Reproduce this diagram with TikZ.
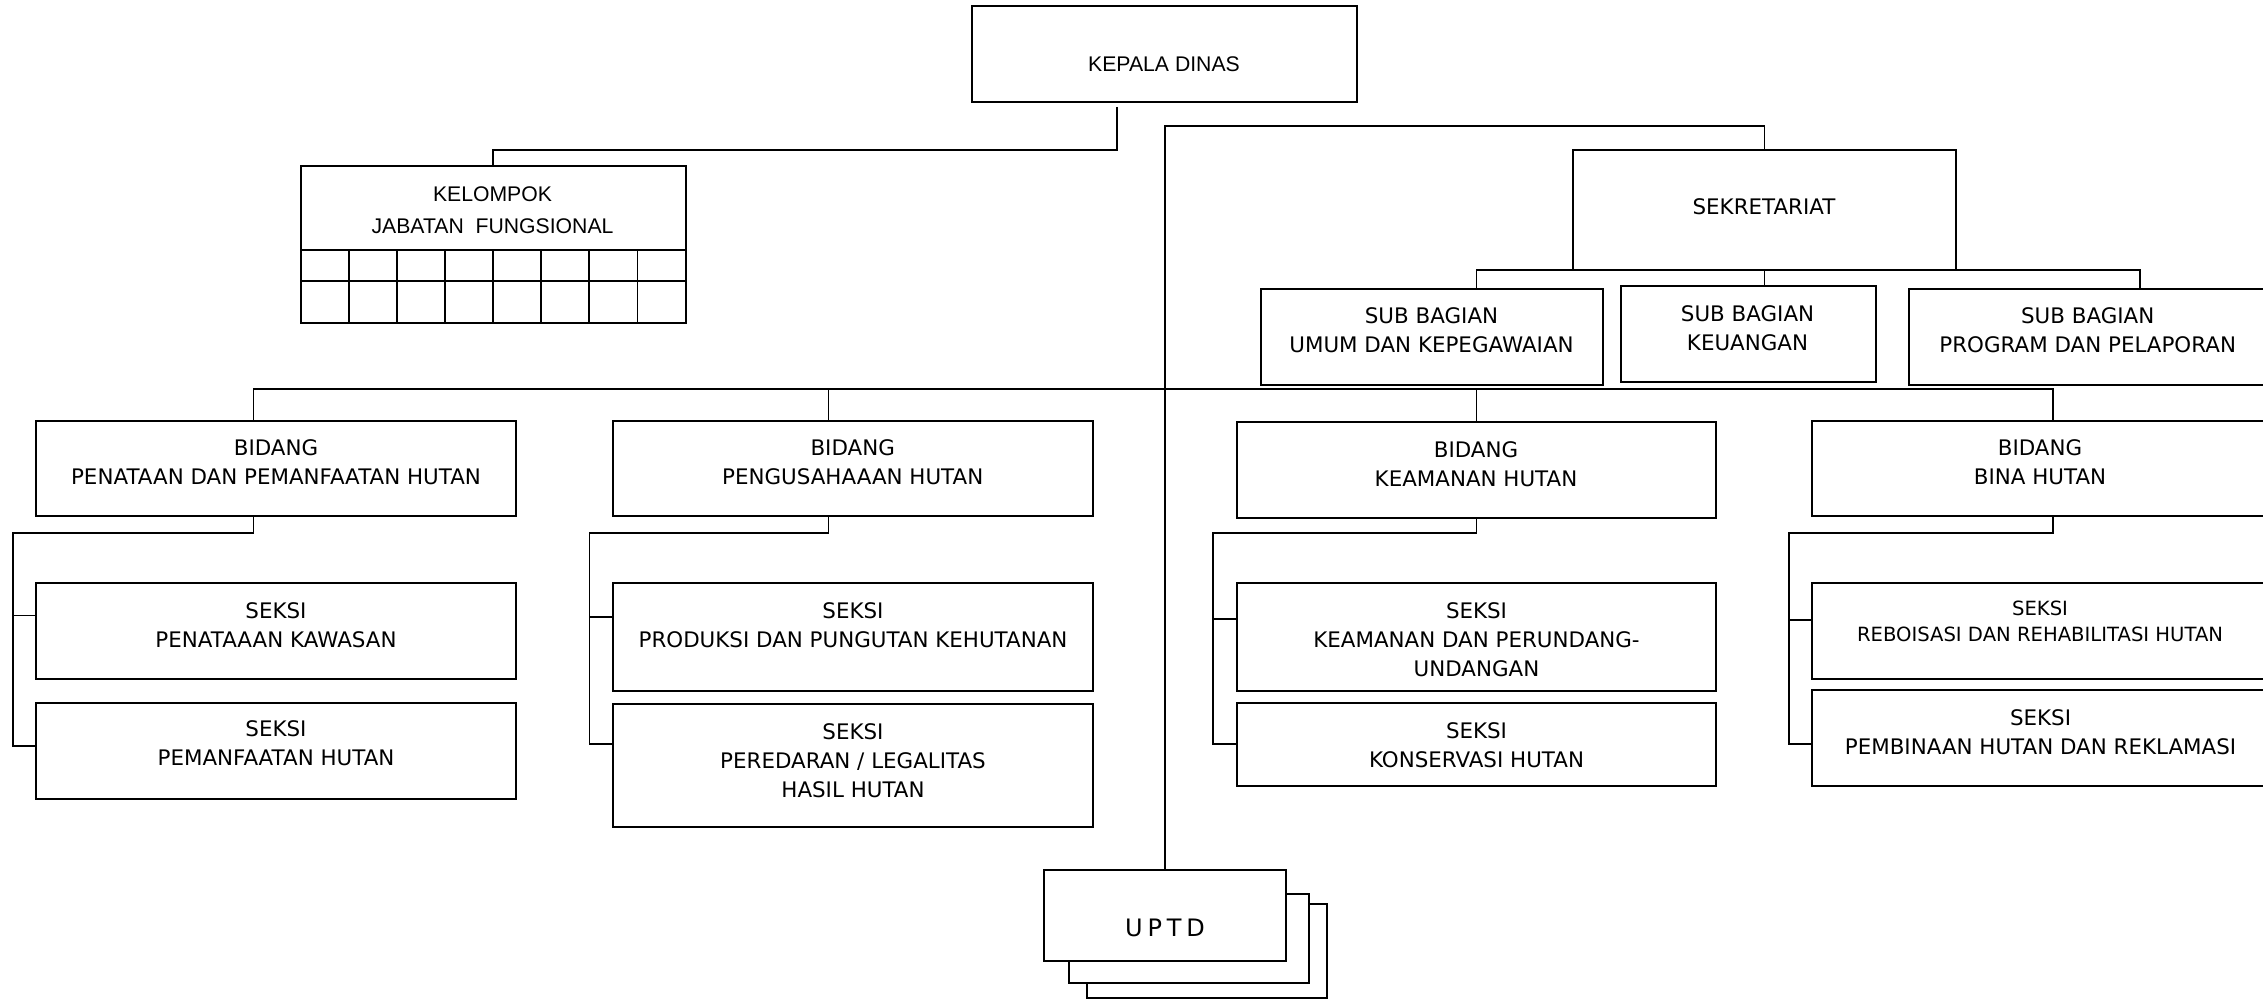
\documentclass[tikz,border=0pt]{standalone}
\usepackage{fontspec}
\newfontfamily\dejavu{DejaVu Sans}
\newfontfamily\arialfont{Liberation Sans}
\usetikzlibrary{calc}

% centred multi-line label whose base anchor sits on the first line
\newcommand{\ml}[1]{\begin{tabular}[t]{@{}c@{}}#1\end{tabular}}

% rectangle node given by its corners: name, x1, y1, x2, y2 (pixel units)
\newcommand{\orgbox}[5]{%
  \pgfmathsetmacro{\obw}{(#4-#2)*0.5}%
  \pgfmathsetmacro{\obh}{(#5-#3)*0.5}%
  \node[box, minimum width=\obw pt, minimum height=\obh pt] (#1) at ({(#2+#4)/2},{(#3+#5)/2}) {};%
}

% bidang -> two seksi: bidang, drop x, rail x, elbow y, seksi A, stub y A, seksi B, stub y B
\newcommand{\branch}[8]{%
  \coordinate (#1-drop) at (#2,#4);
  \coordinate (#1-rail) at (#3,#4);
  \coordinate (#1-sa) at (#3,#6);
  \coordinate (#1-sb) at (#3,#8);
  \draw[link] (#1.south -| #1-drop) -- (#1-drop) -- (#1-rail) -- (#1-sb) -- (#7.west |- #1-sb);
  \draw[link] (#1-sa) -- (#5.west |- #1-sa);
}

\tikzset{
  box/.style={draw, line width=1pt, inner sep=0pt},
  link/.style={line width=0.8pt},
  txt/.style={anchor=base, inner sep=0pt, font=\dejavu\fontsize{10.7}{14.5}\selectfont},
  txtsmall/.style={txt, font=\dejavu\fontsize{9.8}{13.3}\selectfont},
  txtarial/.style={txt, font=\arialfont\fontsize{10.6}{15.8}\selectfont},
}

\begin{document}
\begin{tikzpicture}[x=0.5pt, y=-0.5pt]
\useasboundingbox (0,0) rectangle (2263,1000);
\clip (0,0) rectangle (2263,1000);
\fill[white] (0,0) rectangle (2263,1000);

% --- boxes ---
\orgbox{kd}{972}{6}{1357}{102}
\orgbox{kel}{301}{166}{685.5}{322.7}
\orgbox{sek}{1573}{150}{1956}{270}
\orgbox{sb1}{1261}{289}{1603}{385}
\orgbox{sb2}{1621}{286}{1876}{382}
\orgbox{sb3}{1909}{289}{2270}{385}
\orgbox{b1}{36}{421}{516}{516}
\orgbox{b2}{613}{421}{1093}{516}
\orgbox{b3}{1237}{422}{1716}{518}
\orgbox{b4}{1812}{421}{2270}{516}
\orgbox{s1a}{36}{583}{516}{679}
\orgbox{s1b}{36}{703}{516}{799}
\orgbox{s2a}{613}{583}{1093}{691}
\orgbox{s2b}{613}{704}{1093}{827}
\orgbox{s3a}{1237}{583}{1716}{691}
\orgbox{s3b}{1237}{703}{1716}{786}
\orgbox{s4a}{1812}{583}{2270}{679}
\orgbox{s4b}{1812}{690}{2270}{786}

% kelompok jabatan fungsional grid
\draw[line width=0.9pt] (301,250) -- (685.5,250);
\draw[line width=0.9pt] (301,281) -- (685.5,281);
\foreach \i in {1,...,7}
  \draw[line width=0.9pt] ({301+\i*48.06},250) -- ({301+\i*48.06},322.7);

% UPTD stack, back to front
\fill[white] (1087,904) rectangle (1327,998);
\draw[line width=0.8pt] (1087,904) rectangle (1327,998);
\fill[white] (1069,894) rectangle (1309,983);
\draw[line width=1pt] (1069,894) rectangle (1309,983);
\orgbox{uptd}{1045}{871}{1285}{960}
\fill[white] (uptd.south west) rectangle (uptd.north east);
\draw[line width=1pt] (uptd.south west) rectangle (uptd.north east);

% --- connectors ---
\coordinate (kd-out) at (1117,107);
\coordinate (kd-elbow) at (1117,150);
\draw[link] (kd-out) -- (kd-elbow) -| (kel.north);

\coordinate (trunk-top) at (1165,126);
\draw[link] (uptd.north) -- (trunk-top) -| (sek.north);

\coordinate (sb-l) at (1476.5,270);
\coordinate (sb-r) at (2140,270);
\draw[link] (sb1.north -| sb-l) -- (sb-l) -- (sb-r) -- (sb3.north -| sb-r);
\draw[link] (sek.south) -- (sb2.north -| sek.south);

\coordinate (bus-l) at (253.6,389);
\coordinate (bus-r) at (2053,389);
\coordinate (bus-2) at (828.6,389);
\draw[link] (b1.north -| bus-l) -- (bus-l) -- (bus-r) -- (b4.north -| bus-r);
\draw[link] (bus-2) -- (b2.north -| bus-2);
\draw[link] (b3.north |- bus-l) -- (b3.north);

\branch{b1}{253.6}{12.9}{532.7}{s1a}{615.3}{s1b}{746}
\branch{b2}{828.6}{589.3}{532.7}{s2a}{616.7}{s2b}{744}
\branch{b3}{1476.5}{1213.2}{532.7}{s3a}{618.7}{s3b}{744}
\branch{b4}{2053}{1788.8}{532.7}{s4a}{620}{s4b}{744}

% --- labels ---
\node[txtarial] (t-kd) at (1164,71.7) {\ml{KEPALA DINAS}};
\node[txtarial] (t-kel) at (492.5,201.7) {\ml{KELOMPOK\\JABATAN\ \ FUNGSIONAL}};
\node[txt] (t-sek) at (1764,215) {\ml{SEKRETARIAT}};
\node[txt] (t-sb1) at (1431.5,323.3) {\ml{SUB BAGIAN\\UMUM DAN KEPEGAWAIAN}};
\node[txt] (t-sb2) at (1747.5,321.7) {\ml{SUB BAGIAN\\KEUANGAN}};
\node[txt] (t-sb3) at (2087.7,323.3) {\ml{SUB BAGIAN\\PROGRAM DAN PELAPORAN}};
\node[txt] (t-b1) at (276,455) {\ml{BIDANG\\PENATAAN DAN PEMANFAATAN HUTAN}};
\node[txt] (t-b2) at (852.7,455) {\ml{BIDANG\\PENGUSAHAAAN HUTAN}};
\node[txt] (t-b3) at (1476,457.3) {\ml{BIDANG\\KEAMANAN HUTAN}};
\node[txt] (t-b4) at (2040,455) {\ml{BIDANG\\BINA HUTAN}};
\node[txt] (t-s1a) at (276,618.3) {\ml{SEKSI\\PENATAAAN KAWASAN}};
\node[txt] (t-s1b) at (276,736.7) {\ml{SEKSI\\PEMANFAATAN HUTAN}};
\node[txt] (t-s2a) at (853,618.3) {\ml{SEKSI\\PRODUKSI DAN PUNGUTAN KEHUTANAN}};
\node[txt] (t-s2b) at (853,739) {\ml{SEKSI\\PEREDARAN / LEGALITAS\\HASIL HUTAN}};
\node[txt] (t-s3a) at (1476.5,618.3) {\ml{SEKSI\\KEAMANAN DAN PERUNDANG-\\UNDANGAN}};
\node[txt] (t-s3b) at (1476.5,738.3) {\ml{SEKSI\\KONSERVASI HUTAN}};
\node[txtsmall] (t-s4a) at (2040,615) {\ml{SEKSI\\REBOISASI DAN REHABILITASI HUTAN}};
\node[txt] (t-s4b) at (2040.5,725) {\ml{SEKSI\\PEMBINAAN HUTAN DAN REKLAMASI}};
\node[txt, font=\dejavu\fontsize{12}{14}\selectfont] (t-uptd) at (1165,936.7)
  {U\hspace{2.4pt}P\hspace{2.4pt}T\hspace{2.4pt}D};
\end{tikzpicture}
\end{document}
